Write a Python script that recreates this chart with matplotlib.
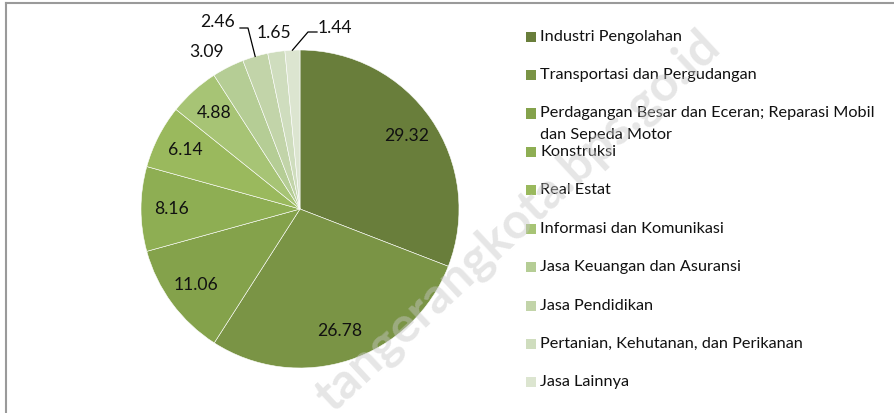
import numpy as np
import matplotlib
matplotlib.use("Agg")
import matplotlib.pyplot as plt
from matplotlib.patches import Rectangle
from matplotlib.lines import Line2D

# === DATA ===
sectors = [
    "Industri Pengolahan",
    "Transportasi dan Pergudangan",
    "Perdagangan Besar dan Eceran; Reparasi Mobil\ndan Sepeda Motor",
    "Konstruksi",
    "Real Estat",
    "Informasi dan Komunikasi",
    "Jasa Keuangan dan Asuransi",
    "Jasa Pendidikan",
    "Pertanian, Kehutanan, dan Perikanan",
    "Jasa Lainnya",
]
shares = [29.32, 26.78, 11.06, 8.16, 6.14, 4.88, 3.09, 2.46, 1.65, 1.44]
colors = ["#697E3B", "#7A9445", "#84A24B", "#8EAE53", "#9AB95D",
          "#A7C475", "#B5CD95", "#C2D4A9", "#CFDDBE", "#DCE5D0"]

# === LAYOUT (pixels of the 894x413 picture) ===
W, H = 894, 413
cx, cy, R = 300, 209, 159
font = "Lato"
fs_leg = 11.7
fs_lab = 12.6

fig = plt.figure(figsize=(W / 100, H / 100), dpi=100, facecolor="white")
ax = fig.add_axes([0, 0, 1, 1])

wedges, _ = ax.pie(shares, colors=colors, startangle=90, counterclock=False,
                   radius=1, center=(0, 0),
                   wedgeprops=dict(edgecolor="white", linewidth=0.4))
ax.set_xlim(-cx / R, (W - cx) / R)
ax.set_ylim(-(H - cy) / R, cy / R)
ax.set_aspect("equal")
ax.axis("off")


def px(x, y):
    return (x - cx) / R, (cy - y) / R


def mid_point(w, r):
    a = np.deg2rad((w.theta1 + w.theta2) / 2)
    return r * np.cos(a), r * np.sin(a)


# labels inside the big slices
for w, v in zip(wedges[:6], shares[:6]):
    x, y = mid_point(w, 0.81)
    ax.text(x, y, f"{v:.2f}", ha="center", va="center", fontsize=fs_lab,
            family=font, color="#111111")

# labels of the small slices, set outside the pie
outside = {6: (207, 52), 7: (218, 22), 8: (274, 33), 9: (335, 28)}
for i, (tx, ty) in outside.items():
    x, y = px(tx, ty)
    ax.text(x, y, f"{shares[i]:.2f}", ha="center", va="center", fontsize=fs_lab,
            family=font, color="#111111")

# leader lines
ex, ey = mid_point(wedges[7], 1.0)
ax.plot([px(240, 28)[0], px(248, 28)[0], ex], [px(240, 28)[1], px(248, 28)[1], ey],
        color="black", lw=0.9)
ex, ey = mid_point(wedges[9], 1.0)
ax.plot([px(317, 32)[0], px(308, 32)[0], ex], [px(317, 32)[1], px(308, 32)[1], ey],
        color="black", lw=0.9)

# legend, drawn by hand so the two-line entry keeps its marker on the first line
y0, step = 36.7, 38.4
for i, (name, c) in enumerate(zip(sectors, colors)):
    yc = y0 + step * i
    fig.add_artist(Rectangle((526 / W, 1 - (yc + 5) / H), 10 / W, 10 / H,
                             transform=fig.transFigure, facecolor=c, edgecolor="none"))
    for k, line in enumerate(name.split("\n")):
        fig.text(540 / W, 1 - (yc + 21 * k) / H, line, ha="left", va="center",
                 fontsize=fs_leg, family=font, color="#111111")

# watermark
fig.text(518 / W, 1 - 222 / H, "tangerangkota.bps.go.id", rotation=43,
         ha="center", va="center", fontsize=36, fontweight="bold",
         family=font, color="#c8c8c8", alpha=0.45)

# chart frame (top and left edges visible)
fig.add_artist(Line2D([5.5 / W, 5.5 / W], [0, 1 - 2.5 / H], transform=fig.transFigure,
                      color="#9a9a9a", lw=1.5))
fig.add_artist(Line2D([5.5 / W, 1], [1 - 2.5 / H, 1 - 2.5 / H], transform=fig.transFigure,
                      color="#9a9a9a", lw=1.5))

fig.savefig("out.png", dpi=100, facecolor="white")
